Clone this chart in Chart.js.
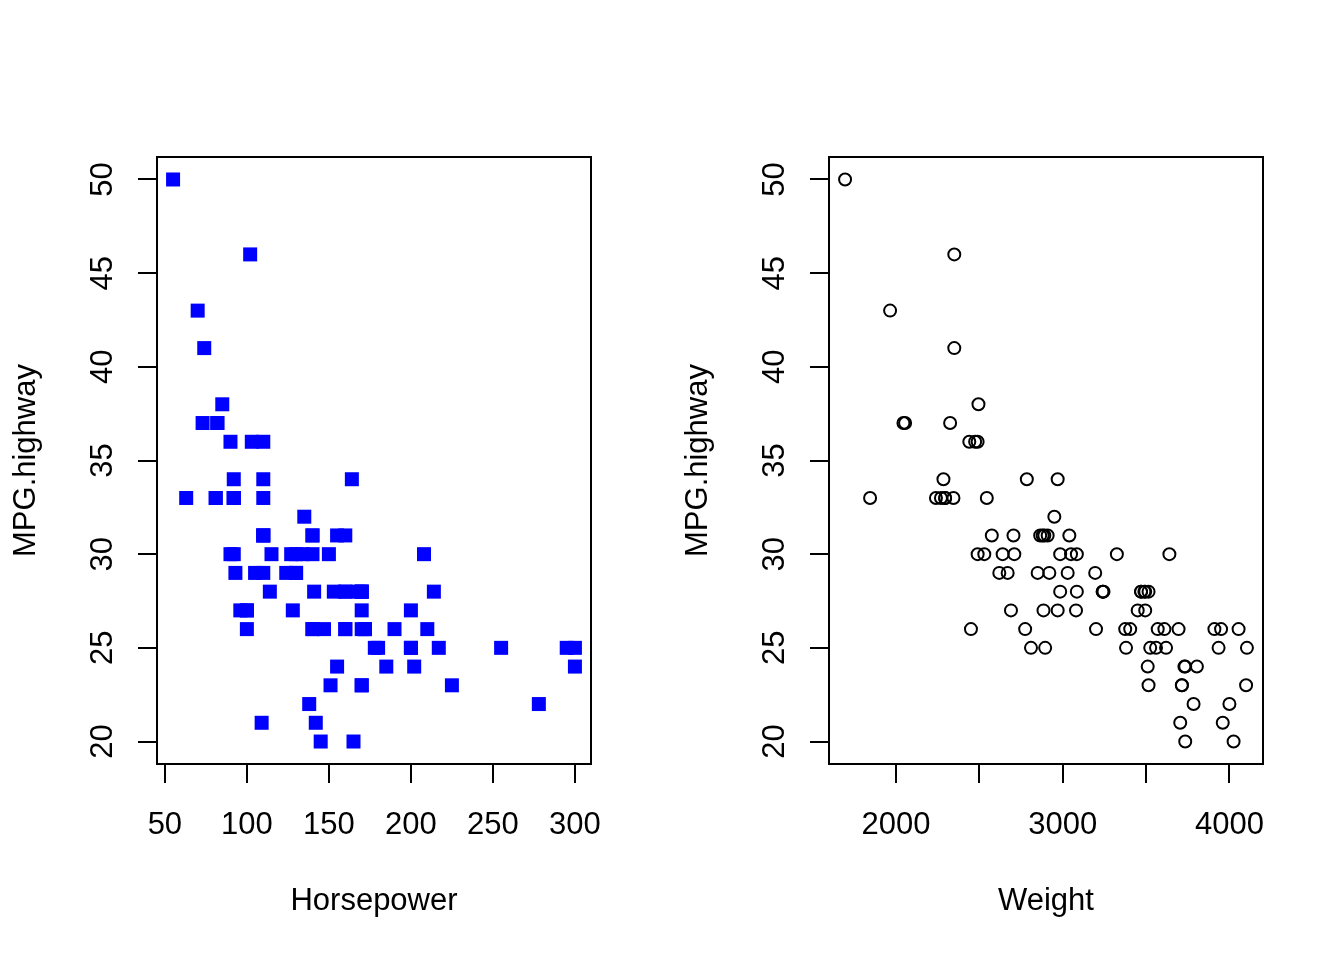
<!DOCTYPE html>
<html>
<head>
<meta charset="utf-8">
<script src="https://cdn.jsdelivr.net/npm/chart.js@4/dist/chart.umd.min.js"></script>
<style>
  html, body { margin: 0; padding: 0; background: #fff; }
  #wrap { display: flex; width: 1344px; height: 960px; }
  canvas { display: block; }
</style>
</head>
<body>
<div id="wrap">
  <canvas id="hpChart" width="672" height="960"></canvas>
  <canvas id="wtChart" width="672" height="960"></canvas>
</div>
<script>
// Cars93: one entry per car, same order in every array
const horsepower = [140,200,172,172,208,110,170,180,170,200, 295,110,110,160,110,170,165,170,300,153,
  141,147,92,93,100,142,100,300,92,214, 63,127,96,105,115,145,140,190,55,90,
  160,102,140,81,124,92,128,278,185,225, 160,210,82,103,164,155,255,130,217,100,
  140,92,202,110,150,151,160,155,110,170, 170,92,74,110,160,200,170,140,85,73,
  90,130,70,82,135,130,138,81,109,134, 178,114,168];

const weight = [2705,3560,3375,3405,3640,2880,3470,4105,3495,3620, 3935,2490,2785,3240,3195,3715,4025,3910,3380,3515,
  3085,3570,2270,2670,2970,3705,3080,3805,2295,3490, 1845,2530,2690,2850,2710,3735,3325,3950,1695,2475,
  2865,2350,3040,2345,2620,2285,2885,4000,3510,3515, 3695,4055,2325,2440,2970,3735,2895,2920,3525,2450,
  3610,2295,3730,2545,3050,4100,3200,2910,2890,3715, 3470,2640,2350,2575,3240,3450,3495,2775,2495,2045,
  2490,3085,1965,2055,2950,3030,3785,2240,3960,2985, 2810,2985,3245];

const mpgHighway = [31,25,26,26,30,31,28,25,27,25, 25,36,34,28,29,23,20,26,25,28,
  28,26,33,29,27,21,27,24,33,28, 33,30,27,29,30,20,30,26,50,36,
  31,46,31,33,29,34,27,22,24,23, 26,26,37,36,34,24,25,29,25,26,
  26,33,24,33,30,23,26,31,31,23, 28,30,41,31,28,27,28,26,38,37,
  30,30,43,37,32,29,22,33,21,30, 25,28,28];

const hpTicks = [50, 100, 150, 200, 250, 300];
const hpTickLabels = ['50', '100', '150', '200', '250', '300'];
const weightTicks = [2000, 2500, 3000, 3500, 4000];
const weightTickLabels = ['2000', '', '3000', '', '4000'];
const mpgTicks = [20, 25, 30, 35, 40, 45, 50];
const mpgTickLabels = ['20', '25', '30', '35', '40', '45', '50'];

const FONT = '31px "Liberation Sans", Arial, sans-serif';

// R style limits: data range widened by 4% on each side
function rRange(values) {
  const lo = Math.min(...values), hi = Math.max(...values);
  const d = (hi - lo) * 0.04;
  return {min: lo - d, max: hi + d};
}

// draws the box, tick marks, tick labels and axis titles like base R graphics
const rAxes = {
  id: 'rAxes',
  afterDraw(chart, args, opts) {
    const ctx = chart.ctx;
    const {left, right, top, bottom} = chart.chartArea;
    const xs = chart.scales.x, ys = chart.scales.y;
    ctx.save();
    ctx.strokeStyle = '#000';
    ctx.fillStyle = '#000';
    ctx.lineWidth = 2;
    ctx.strokeRect(left, top, right - left, bottom - top);

    ctx.beginPath();
    opts.xTicks.forEach(v => {
      const px = Math.round(xs.getPixelForValue(v));
      ctx.moveTo(px, bottom);
      ctx.lineTo(px, bottom + 19);
    });
    opts.yTicks.forEach(v => {
      const py = Math.round(ys.getPixelForValue(v));
      ctx.moveTo(left, py);
      ctx.lineTo(left - 19, py);
    });
    ctx.stroke();

    ctx.font = FONT;
    ctx.textAlign = 'center';
    ctx.textBaseline = 'alphabetic';
    opts.xTicks.forEach((v, i) => {
      ctx.fillText(opts.xLabels[i], xs.getPixelForValue(v), bottom + 70);
    });
    ctx.fillText(opts.xTitle, (left + right) / 2, bottom + 146);

    opts.yTicks.forEach((v, i) => {
      ctx.save();
      ctx.translate(left - 45, ys.getPixelForValue(v));
      ctx.rotate(-Math.PI / 2);
      ctx.fillText(opts.yLabels[i], 0, 0);
      ctx.restore();
    });
    ctx.save();
    ctx.translate(left - 122, (top + bottom) / 2);
    ctx.rotate(-Math.PI / 2);
    ctx.fillText(opts.yTitle, 0, 0);
    ctx.restore();
    ctx.restore();
  }
};

function makeChart(id, xValues, dataset, xTicks, xLabels, xTitle) {
  const points = xValues.map((x, i) => ({x: x, y: mpgHighway[i]}));
  const xr = rRange(xValues), yr = rRange(mpgHighway);
  return new Chart(document.getElementById(id), {
    type: 'scatter',
    data: {datasets: [Object.assign({data: points}, dataset)]},
    options: {
      responsive: false,
      animation: false,
      devicePixelRatio: 1,
      layout: {padding: {left: 157, top: 157, right: 81, bottom: 196}},
      scales: {
        x: {type: 'linear', display: false, min: xr.min, max: xr.max},
        y: {type: 'linear', display: false, min: yr.min, max: yr.max}
      },
      plugins: {
        legend: {display: false},
        tooltip: {enabled: false},
        rAxes: {
          xTicks: xTicks, xLabels: xLabels, xTitle: xTitle,
          yTicks: mpgTicks, yLabels: mpgTickLabels, yTitle: 'MPG.highway'
        }
      }
    },
    plugins: [rAxes]
  });
}

makeChart('hpChart', horsepower, {
  pointStyle: 'rect',
  pointRadius: 9.9,
  pointHoverRadius: 9.9,
  pointBackgroundColor: '#0000FF',
  pointBorderWidth: 0
}, hpTicks, hpTickLabels, 'Horsepower');

makeChart('wtChart', weight, {
  pointStyle: 'circle',
  pointRadius: 6,
  pointHoverRadius: 6,
  pointBackgroundColor: 'rgba(0,0,0,0)',
  pointBorderColor: '#000',
  pointBorderWidth: 2
}, weightTicks, weightTickLabels, 'Weight');
</script>
</body>
</html>
